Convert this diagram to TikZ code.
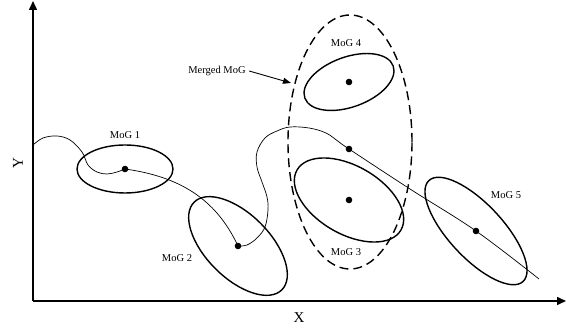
\documentclass[tikz,border=0pt]{standalone}
\usepackage{fontspec}
\setmainfont{Liberation Serif}
\usetikzlibrary{arrows.meta}

\begin{document}
\begin{tikzpicture}[x=1pt, y=1pt, font=\fontsize{10.5}{12}\selectfont,
    axis/.style={line width=1.5pt, -{Triangle[length=9pt, width=8pt]}},
    mog/.style={line width=1.4pt},
    track/.style={line width=0.7pt}]
  \useasboundingbox (0,0) rectangle (566,331);
  % axes
  \coordinate (o) at (33,30);
  \coordinate (xend) at (566,30);
  \coordinate (yend) at (33,330);
  \draw[axis] (o) -- (xend);
  \draw[axis] (o) -- (yend);
  \node[font=\fontsize{15}{16}\selectfont] (xlab) at (299,13) {X};
  \node[font=\fontsize{15}{16}\selectfont, rotate=90] (ylab) at (18,168) {Y};
  % means of the mixtures
  \foreach \n/\x/\y in {1/125/162, 2/238/85, 3/349/131, 4/349/249, 5/476/100, m/349/182} {
    \coordinate (m\n) at (\x,\y);
    \fill (m\n) circle (3.3pt);
  }
  % covariance ellipses
  \foreach \n/\a/\rx/\ry in {1/0/48/24, 2/-45/62/32, 3/-30/60/34, 4/20/47/25, 5/-47/69/27}
    \draw[mog, rotate around={\a:(m\n)}] (m\n) ellipse [x radius=\rx, y radius=\ry];
  \foreach \n/\x/\y in {1/125/196, 2/177/73, 3/346/79, 4/346/288, 5/506/136}
    \node (l\n) at (\x,\y) {MoG \n};
  % merged component
  \draw[mog, dash pattern=on 9pt off 5pt] (350,189) ellipse [x radius=62, y radius=127];
  \node (lmerged) at (217,260) {Merged MoG};
  \coordinate (tip) at (291,248);
  \draw[line width=0.9pt, -{Triangle[length=8pt, width=6pt]}] (lmerged.east) -- (tip);
  % trajectory
  \coordinate (start) at (33,186);
  \coordinate (stop) at (539,52);
  \draw[track] plot[smooth, tension=0.6] coordinates {(start) (43,193) (57,195) (70,191)
      (82,179) (88,166) (97,159) (107,157) (117,159) (m1)}
    to[out=-8, in=115] (m2);
  \draw[track] plot[smooth, tension=0.6] coordinates {(m2) (247,86) (257,93) (265,104)
      (268,121) (267,134) (262,149) (257,164) (257,179) (265,193) (277,200) (290,204)
      (309,203) (326,198) (339,189) (mm) (410,142) (m5) (stop)};
\end{tikzpicture}
\end{document}
